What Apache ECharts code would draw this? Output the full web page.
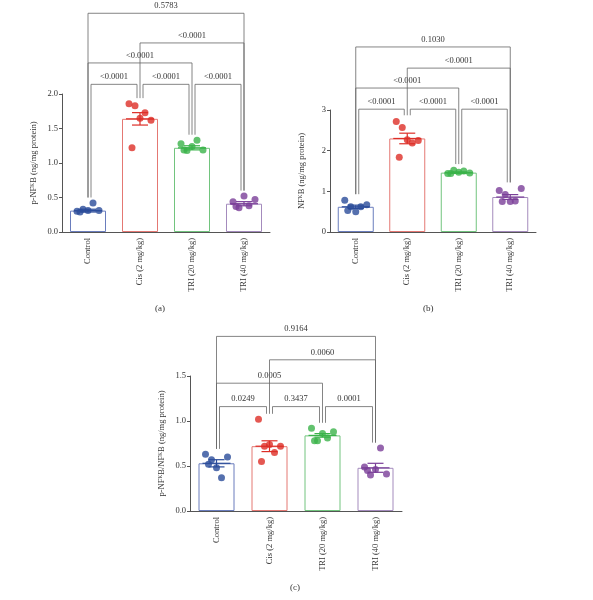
<!DOCTYPE html>
<html>
<head>
<meta charset="utf-8">
<script src="https://cdn.jsdelivr.net/npm/echarts@6/dist/echarts.min.js"></script>
<style>
  html, body { margin: 0; padding: 0; background: #fff; }
  #chart { width: 593px; height: 600px; }
</style>
</head>
<body>
<div id="chart"></div>
<script>
var categories = ['Control', 'Cis (2 mg/kg)', 'TRI (20 mg/kg)', 'TRI (40 mg/kg)'];
var groupColors = ['#2b4c9a', '#dd2e27', '#3bb34a', '#7a3f98'];
var barColors = ['#6a7dbd', '#e47873', '#72c47e', '#a48bbd'];

// panel (a) p-NF-kB
var ptsA = [
  [0.30, 0.33, 0.31, 0.42, 0.31, 0.29],
  [1.86, 1.83, 1.65, 1.73, 1.62, 1.22],
  [1.28, 1.18, 1.24, 1.33, 1.19, 1.19],
  [0.44, 0.35, 0.52, 0.38, 0.47, 0.37]
];
var meanA = [0.31, 1.64, 1.22, 0.41];
var semA = [0.02, 0.09, 0.03, 0.03];
var brkA = [[0, 1, 2.14, '<0.0001'], [1, 2, 2.14, '<0.0001'], [2, 3, 2.14, '<0.0001'],
            [0, 2, 2.45, '<0.0001'], [1, 3, 2.74, '<0.0001'], [0, 3, 3.17, '0.5783']];

// panel (b) NF-kB
var ptsB = [
  [0.78, 0.62, 0.50, 0.62, 0.67, 0.53],
  [2.72, 2.57, 2.27, 2.19, 2.25, 1.84],
  [1.44, 1.52, 1.47, 1.50, 1.45, 1.44],
  [1.02, 0.92, 0.75, 0.76, 1.07, 0.75]
];
var meanB = [0.62, 2.30, 1.46, 0.86];
var semB = [0.04, 0.13, 0.02, 0.06];
var brkB = [[0, 1, 3.02, '<0.0001'], [1, 2, 3.02, '<0.0001'], [2, 3, 3.02, '<0.0001'],
            [0, 2, 3.54, '<0.0001'], [1, 3, 4.03, '<0.0001'], [0, 3, 4.55, '0.1030']];

// panel (c) ratio
var ptsC = [
  [0.63, 0.57, 0.48, 0.37, 0.60, 0.52],
  [1.02, 0.72, 0.74, 0.65, 0.72, 0.55],
  [0.92, 0.78, 0.86, 0.81, 0.88, 0.78],
  [0.49, 0.40, 0.46, 0.70, 0.41, 0.45]
];
var meanC = [0.53, 0.72, 0.84, 0.48];
var semC = [0.04, 0.06, 0.02, 0.05];
var brkC = [[0, 1, 1.16, '0.0249'], [1, 2, 1.16, '0.3437'], [2, 3, 1.16, '0.0001'],
            [0, 2, 1.42, '0.0005'], [1, 3, 1.68, '0.0060'], [0, 3, 1.94, '0.9164']];

var jitter = [-11, -5, 0, 5, 11, -8];
var FONT = 'Liberation Serif';
var chart = echarts.init(document.getElementById('chart'));

var panels = [
  {pts: ptsA, mean: meanA, sem: semA, brk: brkA, max: 2, interval: 0.5, dec: 1, pad: 0.08,
   name: 'p-NF\u1D37B (ng/mg protein)', grid: {left: 62, top: 94, width: 208, height: 138}, cap: '(a)', capX: 150},
  {pts: ptsB, mean: meanB, sem: semB, brk: brkB, max: 3, interval: 1, dec: 0, pad: 0.15,
   name: 'NF\u1D37B (ng/mg protein)', grid: {left: 330, top: 110, width: 206, height: 122}, cap: '(b)', capX: 418},
  {pts: ptsC, mean: meanC, sem: semC, brk: brkC, max: 1.5, interval: 0.5, dec: 1, pad: 0.06,
   name: 'p-NF\u1D37B/NF\u1D37B (ng/mg protein)', grid: {left: 190, top: 376, width: 212, height: 135}, cap: '(c)', capX: 285}
];

var grids = [], xAxes = [], yAxes = [], series = [], titles = [];

panels.forEach(function (p, k) {
  grids.push(p.grid);
  xAxes.push({
    type: 'category', gridIndex: k, data: categories,
    axisLine: {lineStyle: {color: '#555', width: 1}},
    axisTick: {alignWithLabel: true, length: 3, lineStyle: {color: '#555'}},
    axisLabel: {rotate: 90, fontFamily: FONT, fontSize: 8.5, color: '#333', margin: 6}
  });
  yAxes.push({
    type: 'value', gridIndex: k, min: 0, max: p.max, interval: p.interval,
    name: p.name, nameLocation: 'middle', nameGap: 24, nameRotate: 90,
    nameTextStyle: {fontFamily: FONT, fontSize: 8.5, color: '#333'},
    axisLine: {show: true, lineStyle: {color: '#555'}},
    axisTick: {show: true, length: 3, lineStyle: {color: '#555'}},
    splitLine: {show: false},
    axisLabel: {fontFamily: FONT, fontSize: 8.5, color: '#333', margin: 4,
      formatter: function (v) { return v.toFixed(p.dec); }}
  });
  titles.push({text: p.cap, left: p.capX, top: p.grid.top + p.grid.height + 67,
    textStyle: {fontFamily: FONT, fontSize: 9, fontWeight: 'normal', color: '#333'}});

  // bars
  series.push({
    type: 'bar', xAxisIndex: k, yAxisIndex: k, barWidth: 36, z: 1,
    data: p.mean.map(function (m, i) {
      return {value: m, itemStyle: {color: '#fff', borderColor: barColors[i], borderWidth: 1}};
    })
  });

  // points
  var sc = [];
  p.pts.forEach(function (arr, i) {
    arr.forEach(function (v, j) {
      sc.push({value: [i, v], symbolOffset: [jitter[j], 0], itemStyle: {color: groupColors[i]}});
    });
  });
  series.push({type: 'scatter', xAxisIndex: k, yAxisIndex: k, symbolSize: 7, z: 3, data: sc});

  // mean line + SEM
  series.push({
    type: 'custom', xAxisIndex: k, yAxisIndex: k, z: 4,
    data: p.mean.map(function (m, i) { return [i, m, p.sem[i]]; }),
    renderItem: function (params, api) {
      var i = api.value(0), m = api.value(1), s = api.value(2);
      var c = api.coord([i, m]), hi = api.coord([i, m + s]), lo = api.coord([i, m - s]);
      var st = {stroke: groupColors[i], lineWidth: 1.2};
      return {type: 'group', children: [
        {type: 'line', shape: {x1: c[0] - 14, y1: c[1], x2: c[0] + 14, y2: c[1]}, style: st},
        {type: 'line', shape: {x1: c[0], y1: hi[1], x2: c[0], y2: lo[1]}, style: st},
        {type: 'line', shape: {x1: c[0] - 8, y1: hi[1], x2: c[0] + 8, y2: hi[1]}, style: st},
        {type: 'line', shape: {x1: c[0] - 8, y1: lo[1], x2: c[0] + 8, y2: lo[1]}, style: st}
      ]};
    }
  });

  // significance brackets
  var foot = p.pts.map(function (arr) { return Math.max.apply(null, arr) + p.pad; });
  series.push({
    type: 'custom', xAxisIndex: k, yAxisIndex: k, z: 5, clip: false,
    data: p.brk,
    renderItem: function (params, api) {
      var a = api.value(0), b = api.value(1), lv = api.value(2);
      var adj = (b - a === 1) ? 3 : 0;
      var pa = api.coord([a, lv]), pb = api.coord([b, lv]);
      var fa = api.coord([a, foot[a]]), fb = api.coord([b, foot[b]]);
      var xa = pa[0] + adj, xb = pb[0] - adj;
      var st = {stroke: '#666', lineWidth: 0.8, fill: null};
      return {type: 'group', children: [
        {type: 'polyline', shape: {points: [[xa, fa[1]], [xa, pa[1]], [xb, pb[1]], [xb, fb[1]]]}, style: st},
        {type: 'text', x: (xa + xb) / 2, y: pa[1] - 3,
         style: {text: p.brk[params.dataIndex][3], fontFamily: FONT, fontSize: 8.5, fill: '#333',
                 align: 'center', verticalAlign: 'bottom'}}
      ]};
    }
  });
});

chart.setOption({
  animation: false,
  backgroundColor: '#fff',
  title: titles,
  grid: grids,
  xAxis: xAxes,
  yAxis: yAxes,
  series: series
});
</script>
</body>
</html>
